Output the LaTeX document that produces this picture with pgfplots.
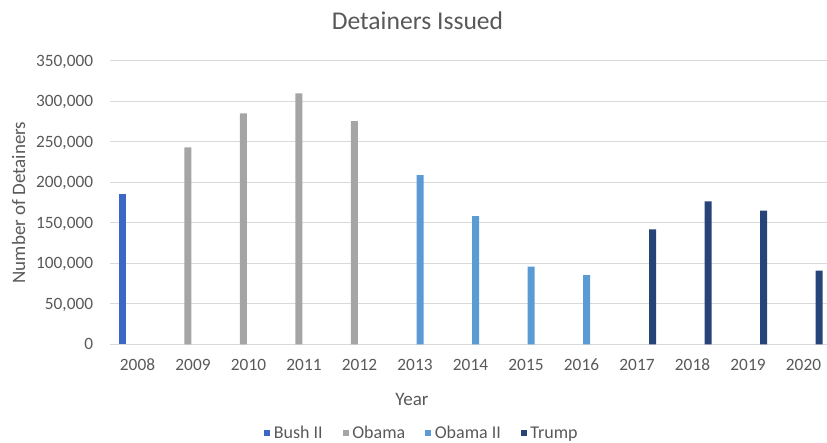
\documentclass[border=0pt]{standalone}
\usepackage{pgfplots}
\pgfplotsset{compat=1.18}
\usepackage{fontspec}
\setmainfont{Carlito}

\definecolor{txt}{HTML}{595959}
\definecolor{gridc}{HTML}{D9D9D9}
\definecolor{bush}{HTML}{3B67C7}
\definecolor{obama}{HTML}{A5A5A5}
\definecolor{obamaii}{HTML}{5B9BD5}
\definecolor{trump}{HTML}{264478}

\begin{document}
\begin{tikzpicture}[x=1pt,y=1pt]
\begin{axis}[
  at={(109.75pt,-344.3pt)}, anchor=south west,
  scale only axis, width=721.5pt, height=283.6pt,
  xmin=-0.5, xmax=12.5, ymin=0, ymax=350000,
  xtick={0,1,2,3,4,5,6,7,8,9,10,11,12},
  xticklabels={2008,2009,2010,2011,2012,2013,2014,2015,2016,2017,2018,2019,2020},
  ytick={0,50000,100000,150000,200000,250000,300000,350000},
  scaled y ticks=false,
  axis line style={draw=none},
  tick style={draw=none},
  ymajorgrids, major grid style={gridc, line width=1.1pt},
  ticklabel style={font=\fontsize{17.3}{20}\selectfont, text=txt},
  yticklabel style={anchor=base east, inner sep=0pt, xshift=-16.5pt, yshift=-5.5pt,
    /pgf/number format/.cd, fixed, 1000 sep={,}, assume math mode=true},
  xticklabel style={anchor=base, inner sep=0pt, yshift=-25.7pt},
  legend columns=4,
  legend style={at={(0.4314,-0.3128)}, anchor=center, draw=none, fill=none,
    inner sep=0pt, font=\fontsize{18}{21}\selectfont, text=txt,
    nodes={inner sep=0pt},
    /tikz/every odd column/.style={column sep=3.5pt},
    /tikz/every even column/.style={column sep=20pt}},
  legend image code/.code={\fill[#1] (0pt,-3pt) rectangle (6pt,3pt);},
]
\addplot[ybar, bar width=7pt, bar shift=-15.5pt, fill=bush, draw=none]
  coordinates {(0,185500)};
\addplot[ybar, bar width=7pt, bar shift=-5.2pt, fill=obama, draw=none]
  coordinates {(1,243000) (2,285000) (3,309600) (4,275500)};
\addplot[ybar, bar width=7pt, bar shift=5.2pt, fill=obamaii, draw=none]
  coordinates {(5,208900) (6,158300) (7,95800) (8,85500)};
\addplot[ybar, bar width=7pt, bar shift=15.5pt, fill=trump, draw=none]
  coordinates {(9,141900) (10,176400) (11,164900) (12,90900)};
\legend{Bush II, Obama, Obama II, Trump}
\end{axis}

% titles
\node[anchor=base, text=txt, font=\fontsize{25.6}{30}\selectfont, inner sep=0pt]
  at (417.5,-29.3) {Detainers Issued};
\node[anchor=base, rotate=90, text=txt, font=\fontsize{19}{22}\selectfont, inner sep=0pt]
  at (25,-202.5) {Number of Detainers};
\node[anchor=base, text=txt, font=\fontsize{19}{22}\selectfont, inner sep=0pt]
  at (412,-405) {Year};

\pgfresetboundingbox
\path (0,0) rectangle (827,-442);
\end{tikzpicture}
\end{document}
